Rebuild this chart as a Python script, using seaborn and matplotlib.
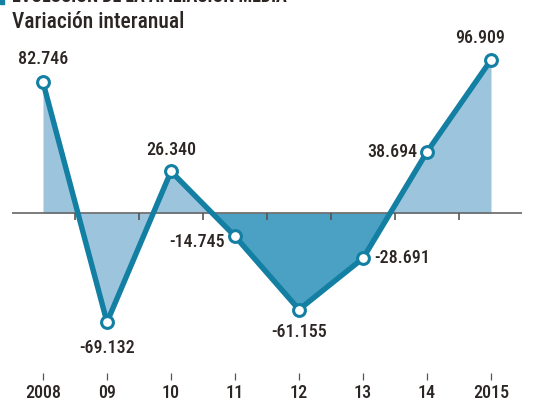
import numpy as np
import pandas as pd
import matplotlib
matplotlib.use("Agg")
import matplotlib.pyplot as plt
import seaborn as sns

years = ["2008", "09", "10", "11", "12", "13", "14", "2015"]
values = [82.746, -69.132, 26.340, -14.745, -61.155, -28.691, 38.694, 96.909]
labels = ["82.746", "-69.132", "26.340", "-14.745", "-61.155", "-28.691", "38.694", "96.909"]

line_col = "#127fa3"
light_fill = "#9cc4dd"
dark_fill = "#4aa1c3"
text_col = "#2b2523"

sns.set_style("white")
plt.rcParams['font.family'] = ['Roboto Condensed', 'DejaVu Sans']

df = pd.DataFrame({"pos": np.arange(len(years)), "val": values})
x = df["pos"].values
y = df["val"].values

fig = plt.figure(figsize=(5.36, 4.04), dpi=100)
ax = fig.add_axes([12 / 536, 24 / 404, 510 / 536, 380 / 404])

# fills
ax.fill_between(x, y, 0, color=light_fill, lw=0)
ax.fill_between(x[2:7], y[2:7], 0, where=y[2:7] < 0, interpolate=True,
                color=dark_fill, lw=0)

# zero line with ticks between years
ax.axhline(0, color="#666666", lw=1.2, zorder=2)
ax.vlines(np.arange(len(years) - 1) + 0.5, -4.6, 0, color="#555555", lw=1.2, zorder=2)

sns.lineplot(data=df, x="pos", y="val", ax=ax, color=line_col, lw=3.9,
             marker="o", markersize=8.5, markerfacecolor="white",
             markeredgecolor=line_col, markeredgewidth=2.2, zorder=4)

# value labels
offsets = [(0, 10, "center", "bottom"), (0, -12, "center", "top"),
           (0, 9, "center", "bottom"), (-7, -4, "right", "center"),
           (0, -10, "center", "top"), (8, 0, "left", "center"),
           (-7, 0, "right", "center"), (-8, 9, "center", "bottom")]
for xi, yi, lab, (dx, dy, ha, va) in zip(x, y, labels, offsets):
    ax.annotate(lab, (xi, yi), xytext=(dx, dy), textcoords="offset points",
                ha=ha, va=va, fontsize=13, fontweight="medium", color=text_col)

ax.set_xlim(-31 / 64, 7 + 31 / 64)
ax.set_ylim(-(380 - 213) / 1.579, 213 / 1.579)
ax.set_xticks(x)
ax.set_xticklabels(years, fontweight="medium")
ax.set_yticks([])
ax.tick_params(axis="x", direction="in", length=5, width=0.9, color="#555555",
               pad=3, labelsize=13, labelcolor=text_col, bottom=True)
ax.set_xlabel("")
ax.set_ylabel("")
sns.despine(ax=ax, left=True, bottom=True)

fig.text(12 / 536, 1 - 22 / 404, "Variación interanual", fontsize=15.5,
         fontweight="medium", color=text_col, va="center", ha="left")
fig.text(12 / 536, 1 + 3.5 / 404, "EVOLUCIÓN DE LA AFILIACIÓN MEDIA", fontsize=13,
         fontweight="bold", color=text_col, va="center", ha="left")
fig.patches.append(plt.Rectangle((0, 1 - 4 / 404), 4 / 536, 4 / 404,
                                 transform=fig.transFigure, color=line_col))

fig.savefig("out.png", dpi=100)
